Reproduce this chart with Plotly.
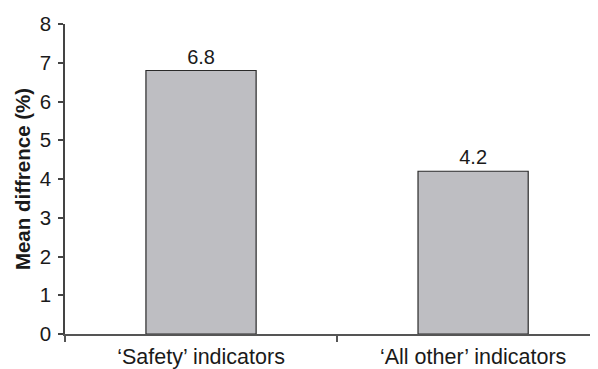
import plotly.graph_objects as go

categories = ["\u2018Safety\u2019 indicators", "\u2018All other\u2019 indicators"]
values = [6.8, 4.2]
labels = ["6.8", "4.2"]
y_ticks = [0, 1, 2, 3, 4, 5, 6, 7, 8]

FONT = "Liberation Sans, Arial, sans-serif"

fig = go.Figure(go.Bar(
    x=categories, y=values, text=labels, textposition="outside",
    textfont=dict(size=20, color="#1a1a1a", family=FONT),
    marker=dict(color="#bebec2", line=dict(color="#2a2a2a", width=1.2)),
    cliponaxis=False,
))

# page body has an 8px default margin, so the figure is sized to fit the window
fig.update_layout(
    width=590, height=361,
    margin=dict(l=57, r=0, t=16, b=35),
    paper_bgcolor="white", plot_bgcolor="white",
    bargap=0.595,
    showlegend=False,
    font=dict(family=FONT, size=20, color="#1a1a1a"),
)
fig.update_xaxes(
    range=[-0.5, 1.459], showline=True, linecolor="#555", linewidth=2,
    ticks="outside", tickson="boundaries", ticklen=6, tickcolor="#555", tickwidth=2,
    tickfont=dict(size=21.5, family=FONT, color="#1a1a1a"), showgrid=False,
    automargin=False, ticklabelstandoff=2,
)
fig.update_yaxes(
    range=[0, 8], tickvals=y_ticks, showline=True, linecolor="#444", linewidth=1.5,
    ticks="outside", ticklen=5, tickcolor="#444", tickwidth=1.5,
    tickfont=dict(size=20.5, family=FONT, color="#1a1a1a"), showgrid=False, zeroline=False,
    automargin=False, ticklabelstandoff=3,
    title=dict(text="<b>Mean diffrence (%)</b>", font=dict(size=20.5, family=FONT, color="#1a1a1a"), standoff=4),
)

fig.write_html("out.html")
